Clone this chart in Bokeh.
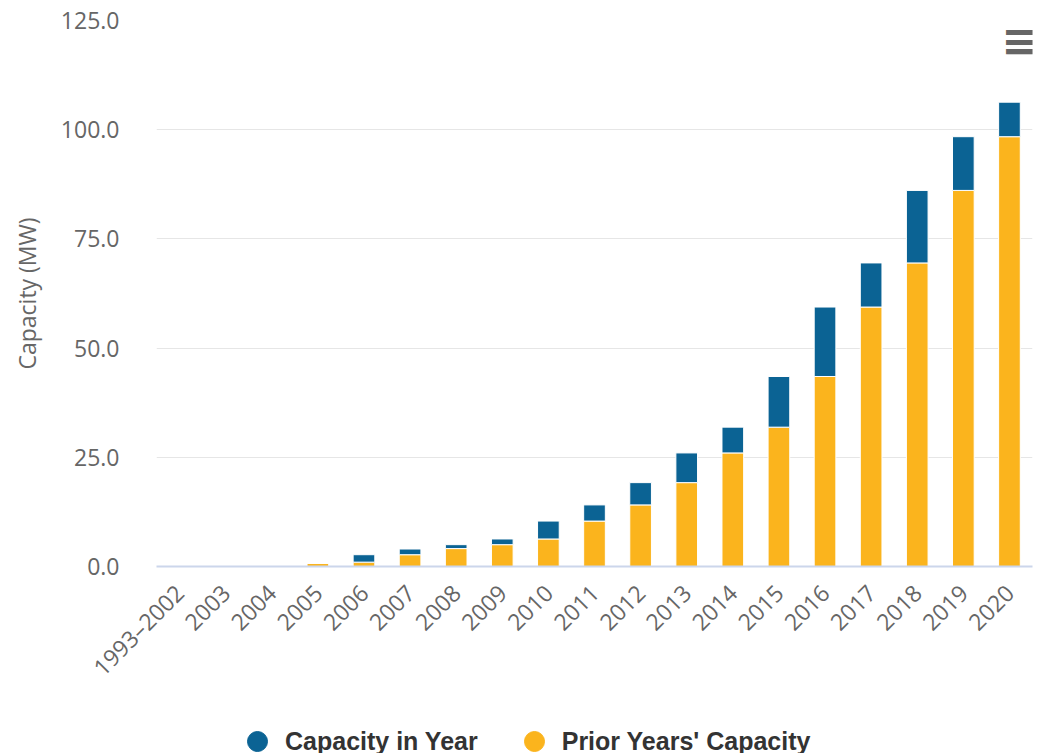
from bokeh.plotting import figure
from bokeh.layouts import column
from bokeh.models import (ColumnDataSource, FactorRange, Range1d, FixedTicker,
                          NumeralTickFormatter, Legend, LegendItem, Label)
from bokeh.embed import file_html
from bokeh.resources import INLINE
import math

categories = ["1993\u20132002", "2003", "2004", "2005", "2006", "2007", "2008", "2009",
              "2010", "2011", "2012", "2013", "2014", "2015", "2016", "2017",
              "2018", "2019", "2020"]
prior_capacity = [0.0, 0.0, 0.0, 0.75, 1.0, 2.7, 4.1, 5.0, 6.3, 10.4, 14.1, 19.2,
                  26.0, 31.9, 43.5, 59.4, 69.5, 86.1, 98.4]
capacity_in_year = [0.0, 0.0, 0.0, 0.0, 1.7, 1.3, 0.9, 1.3, 4.1, 3.7, 5.1, 6.8,
                    5.9, 11.6, 15.9, 10.1, 16.6, 12.3, 7.9]
y_ticks = [0, 25, 50, 75, 100, 125]
series_labels = ["Capacity in Year", "Prior Years' Capacity"]

BLUE = "#0b6394"
YELLOW = "#fbb41d"
FONT = "Open Sans"

source = ColumnDataSource(dict(cat=categories, prior=prior_capacity, new=capacity_in_year))

p = figure(width=1056, height=700, output_backend="svg", toolbar_location=None,
           x_range=FactorRange(*categories, range_padding=0),
           y_range=Range1d(0, 125),
           min_border_left=156, min_border_right=24, min_border_top=20,
           min_border_bottom=134)
p.outline_line_color = None
p.background_fill_color = "white"

p.vbar_stack(["prior", "new"], x="cat", width=0.47, source=source,
             color=[YELLOW, BLUE], line_color="white", line_width=1)

# y axis
p.yaxis.ticker = FixedTicker(ticks=y_ticks)
p.yaxis.formatter = NumeralTickFormatter(format="0.0")
p.yaxis.axis_line_color = None
p.yaxis.major_tick_line_color = None
p.yaxis.minor_tick_line_color = None
p.yaxis.major_label_text_font = FONT
p.yaxis.major_label_text_font_size = "23px"
p.yaxis.major_label_text_color = "#666666"
p.yaxis.major_label_standoff = 31
p.yaxis.axis_label = "Capacity (MW)"
p.yaxis.axis_label_text_font = FONT
p.yaxis.axis_label_text_font_size = "23px"
p.yaxis.axis_label_text_font_style = "normal"
p.yaxis.axis_label_text_color = "#666666"
p.yaxis.axis_label_standoff = 15
p.ygrid.grid_line_color = "#e6e6e6"
p.ygrid.grid_line_width = 1

# x axis
p.xaxis.axis_line_color = "#ccd6eb"
p.xaxis.axis_line_width = 2
p.xaxis.major_tick_line_color = None
p.xaxis.minor_tick_line_color = None
p.xaxis.major_label_orientation = math.pi / 4
p.xaxis.major_label_text_font = FONT
p.xaxis.major_label_text_font_size = "23px"
p.xaxis.major_label_text_color = "#666666"
p.xaxis.major_label_standoff = 16
p.xgrid.grid_line_color = None

# context menu icon
p.add_layout(Label(x=845, y=526, x_units="screen", y_units="screen", text="\u2261",
                   text_font="DejaVu Sans", text_font_style="bold",
                   text_font_size="44px", text_color="#666666",
                   text_baseline="middle", text_align="left"))

# legend strip (separate figure so the legend is not clipped by the plot frame)
lg = figure(width=1056, height=53, output_backend="svg", toolbar_location=None,
            x_range=Range1d(0, 1), y_range=Range1d(0, 1),
            min_border=0, min_border_left=0, min_border_right=0,
            min_border_top=0, min_border_bottom=0)
lg.axis.visible = False
lg.grid.visible = False
lg.outline_line_color = None
# legend proxies: one point each, placed outside the visible range
r_new = lg.scatter(x=[-1], y=[-1], marker="circle", size=20, color=BLUE)
r_prior = lg.scatter(x=[-1], y=[-1], marker="circle", size=20, color=YELLOW)
legend = Legend(items=[LegendItem(label=series_labels[0], renderers=[r_new]),
                       LegendItem(label=series_labels[1], renderers=[r_prior])],
                orientation="horizontal", location=(76, -13),
                glyph_width=50, glyph_height=50, label_standoff=3, spacing=31,
                padding=0, margin=0, border_line_color=None,
                background_fill_alpha=0,
                label_text_font="Liberation Sans", label_text_font_style="bold",
                label_text_font_size="25px", label_text_color="#333333")
lg.add_layout(legend, "center")

layout = column(p, lg, spacing=0)
open("out.html", "w").write(file_html(layout, INLINE))
